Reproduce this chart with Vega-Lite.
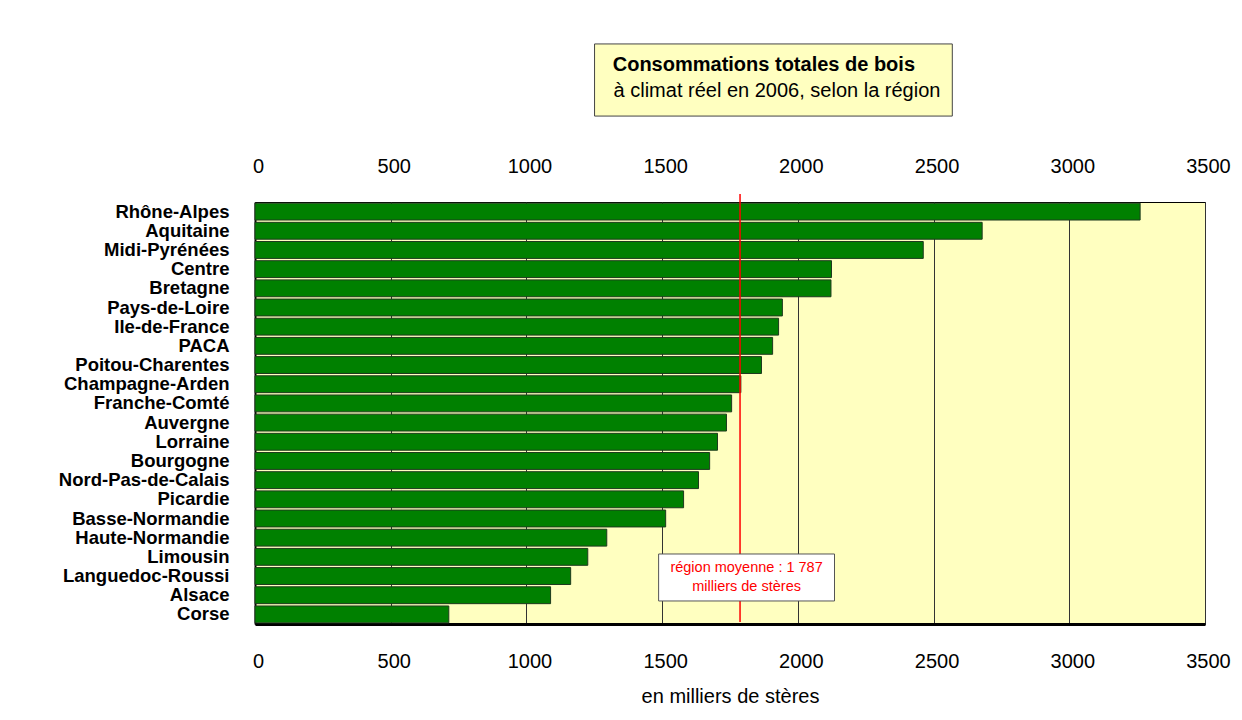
{
  "$schema": "https://vega.github.io/schema/vega-lite/v6.json",
  "width": 950,
  "height": 422,
  "autosize": {"type": "none"},
  "padding": {"left": 255, "top": 202, "right": 37, "bottom": 96},
  "background": "white",
  "config": {
    "font": "Liberation Sans",
    "view": {"fill": "#FFFFC0", "stroke": "#000000", "strokeWidth": 1}
  },
  "data": {
    "values": [
      {"region": "Rhône-Alpes", "value": 3261},
      {"region": "Aquitaine", "value": 2679},
      {"region": "Midi-Pyrénées", "value": 2462},
      {"region": "Centre", "value": 2124},
      {"region": "Bretagne", "value": 2122},
      {"region": "Pays-de-Loire", "value": 1943},
      {"region": "Ile-de-France", "value": 1929},
      {"region": "PACA", "value": 1907},
      {"region": "Poitou-Charentes", "value": 1866},
      {"region": "Champagne-Arden", "value": 1790},
      {"region": "Franche-Comté", "value": 1756},
      {"region": "Auvergne", "value": 1737},
      {"region": "Lorraine", "value": 1704},
      {"region": "Bourgogne", "value": 1675},
      {"region": "Nord-Pas-de-Calais", "value": 1634},
      {"region": "Picardie", "value": 1579},
      {"region": "Basse-Normandie", "value": 1513},
      {"region": "Haute-Normandie", "value": 1296},
      {"region": "Limousin", "value": 1226},
      {"region": "Languedoc-Roussi", "value": 1163},
      {"region": "Alsace", "value": 1089},
      {"region": "Corse", "value": 714}
    ]
  },
  "layer": [
    {
      "mark": {"type": "bar", "fill": "#008000", "stroke": "#1e3a1e", "strokeWidth": 1},
      "encoding": {
        "y": {
          "field": "region",
          "type": "nominal",
          "sort": null,
          "scale": {"paddingInner": 0.12, "paddingOuter": 0.06},
          "axis": {
            "title": null,
            "ticks": false,
            "domain": true,
            "domainColor": "#000000",
            "domainWidth": 2,
            "labelFontSize": 18.5,
            "labelFontWeight": "bold",
            "labelColor": "#000000",
            "labelPadding": 26,
            "labelLimit": 400
          }
        },
        "x": {
          "field": "value",
          "type": "quantitative",
          "scale": {"domain": [0, 3500], "nice": false, "zero": true},
          "axis": {
            "orient": "bottom",
            "values": [0, 500, 1000, 1500, 2000, 2500, 3000, 3500],
            "format": "d",
            "title": "en milliers de stères",
            "titleFontSize": 20,
            "titleFontWeight": "normal",
            "titleColor": "#000000",
            "titlePadding": 15,
            "ticks": false,
            "domain": true,
            "domainColor": "#000000",
            "domainWidth": 3,
            "grid": true,
            "gridColor": "#333333",
            "gridWidth": 1,
            "labelFontSize": 20,
            "labelColor": "#000000",
            "labelPadding": 27,
            "labelOffset": 3,
            "labelFlush": false
          }
        }
      }
    },
    {
      "data": {"values": [{}]},
      "layer": [
        {
          "mark": {"type": "rule", "stroke": "#FF0000", "strokeWidth": 1.5},
          "encoding": {
            "x": {
              "datum": 1787,
              "type": "quantitative",
              "scale": {"domain": [0, 3500], "nice": false, "zero": true},
              "axis": {
                "orient": "top",
                "values": [0, 500, 1000, 1500, 2000, 2500, 3000, 3500],
                "format": "d",
                "title": null,
                "ticks": false,
                "domain": false,
                "grid": false,
                "labelFontSize": 20,
                "labelColor": "#000000",
                "labelPadding": 26,
                "labelOffset": 3,
                "labelFlush": false
              }
            },
            "y": {"datum": -0.42, "type": "quantitative", "scale": {"domain": [0, 22], "reverse": true, "nice": false, "zero": false}, "axis": null},
            "y2": {"datum": 21.9}
          }
        },
        {
          "mark": {"type": "rect", "fill": "#FFFFC0", "stroke": "#444444", "strokeWidth": 1},
          "encoding": {
            "x": {"datum": 1251, "type": "quantitative", "axis": null},
            "x2": {"datum": 2569},
            "y": {"datum": -8.24, "type": "quantitative", "axis": null},
            "y2": {"datum": -4.48}
          }
        },
        {
          "mark": {"type": "text", "text": "Consommations totales de bois", "align": "left", "baseline": "middle", "fontSize": 20, "fontWeight": "bold", "color": "#000000"},
          "encoding": {
            "x": {"datum": 1318, "type": "quantitative", "axis": null},
            "y": {"datum": -7.14, "type": "quantitative", "axis": null}
          }
        },
        {
          "mark": {"type": "text", "text": "à climat réel en 2006, selon la région", "align": "left", "baseline": "middle", "fontSize": 20, "color": "#000000"},
          "encoding": {
            "x": {"datum": 1321, "type": "quantitative", "axis": null},
            "y": {"datum": -5.79, "type": "quantitative", "axis": null}
          }
        },
        {
          "mark": {"type": "rect", "fill": "#FFFFFF", "stroke": "#555555", "strokeWidth": 1},
          "encoding": {
            "x": {"datum": 1487, "type": "quantitative", "axis": null},
            "x2": {"datum": 2135},
            "y": {"datum": 18.35, "type": "quantitative", "axis": null},
            "y2": {"datum": 20.8}
          }
        },
        {
          "mark": {"type": "text", "text": "région moyenne : 1 787", "align": "center", "baseline": "middle", "fontSize": 14.5, "color": "#FF0000"},
          "encoding": {
            "x": {"datum": 1811, "type": "quantitative", "axis": null},
            "y": {"datum": 19.08, "type": "quantitative", "axis": null}
          }
        },
        {
          "mark": {"type": "text", "text": "milliers de stères", "align": "center", "baseline": "middle", "fontSize": 14.5, "color": "#FF0000"},
          "encoding": {
            "x": {"datum": 1811, "type": "quantitative", "axis": null},
            "y": {"datum": 20.07, "type": "quantitative", "axis": null}
          }
        }
      ],
      "resolve": {"axis": {"x": "independent"}}
    }
  ],
  "resolve": {"scale": {"y": "independent"}, "axis": {"x": "independent", "y": "independent"}}
}
